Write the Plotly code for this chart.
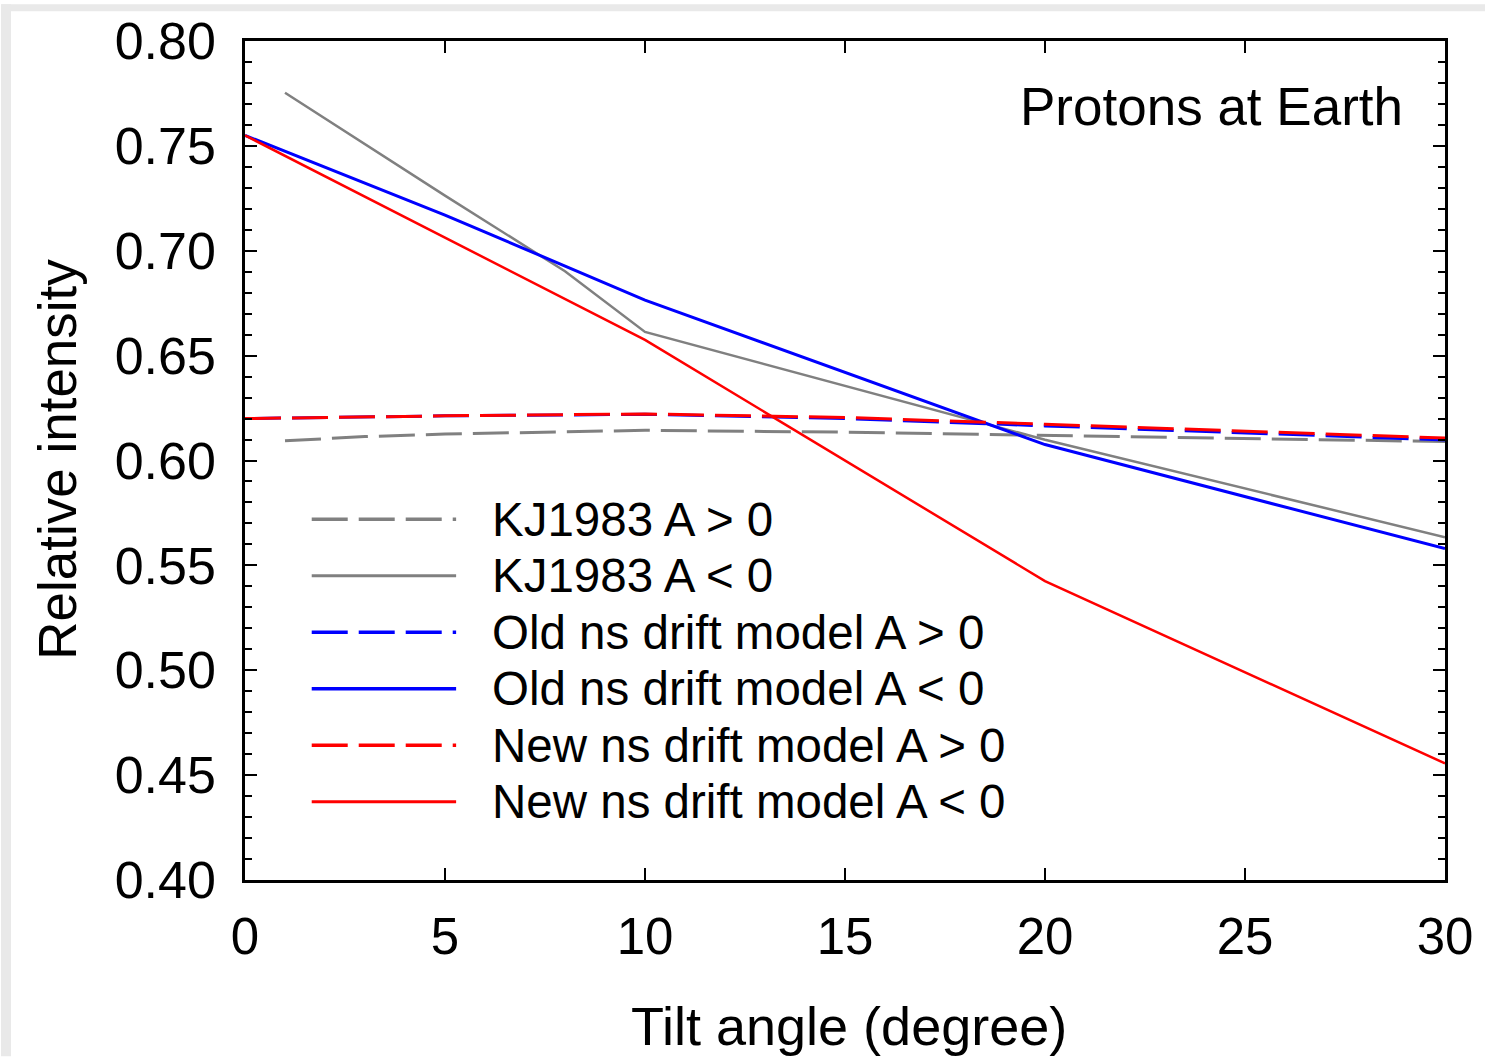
import plotly.graph_objects as go

# ---------------- data ----------------
kj_pos_x = [1, 2, 3, 5, 10, 15, 20, 25, 30]
kj_pos_y = [0.6094, 0.6103, 0.6114, 0.6126, 0.6144, 0.6135, 0.6121, 0.6105, 0.6090]

kj_neg_x = [1, 5, 8, 10, 20, 30]
kj_neg_y = [0.7753, 0.7263, 0.6902, 0.6613, 0.6099, 0.5634]

old_pos_x = [0, 5, 10, 15, 20, 25, 30]
old_pos_y = [0.6200, 0.6213, 0.6220, 0.6200, 0.6165, 0.6130, 0.6098]

old_neg_x = [0, 5, 10, 20, 30]
old_neg_y = [0.7550, 0.7170, 0.6765, 0.6076, 0.5580]

new_pos_x = [0, 5, 10, 15, 20, 25, 30]
new_pos_y = [0.6200, 0.6213, 0.6222, 0.6205, 0.6173, 0.6140, 0.6107]

new_neg_x = [0, 10, 20, 30]
new_neg_y = [0.7550, 0.6575, 0.5425, 0.4556]

x_ticks = [0, 5, 10, 15, 20, 25, 30]
y_ticks = [0.40, 0.45, 0.50, 0.55, 0.60, 0.65, 0.70, 0.75, 0.80]

legend_labels = ["KJ1983 A > 0", "KJ1983 A < 0", "Old ns drift model A > 0",
                 "Old ns drift model A < 0", "New ns drift model A > 0",
                 "New ns drift model A < 0"]

# ---------------- styles ----------------
FONT = "Liberation Sans, Arial, Helvetica, sans-serif"
GRAY = "#808080"
BLUE = "#0000ff"
RED = "#ff0000"
DASH = "36px,11px"

series = [
    (kj_pos_x, kj_pos_y, GRAY, 3.0, DASH, legend_labels[0]),
    (kj_neg_x, kj_neg_y, GRAY, 2.5, "solid", legend_labels[1]),
    (old_pos_x, old_pos_y, BLUE, 3.0, DASH, legend_labels[2]),
    (old_neg_x, old_neg_y, BLUE, 3.0, "solid", legend_labels[3]),
    (new_pos_x, new_pos_y, RED, 3.0, DASH, legend_labels[4]),
    (new_neg_x, new_neg_y, RED, 2.5, "solid", legend_labels[5]),
]

W, H = 1485, 1057
L, R, T, B = 245, 35, 37, 177
PW, PH = W - L - R, H - T - B


def px(xp):
    return (xp - L) / PW


def py(yp):
    return (H - B - yp) / PH


fig = go.Figure()
for xs, ys, c, w, d, name in series:
    fig.add_trace(go.Scatter(x=xs, y=ys, mode="lines", name=name,
                             line=dict(color=c, width=w, dash=d),
                             showlegend=False, hoverinfo="skip"))

shapes = []
annotations = []

# manual legend (line samples + labels)
leg_y0 = 517.5
leg_dy = 56.8
for i, (xs, ys, c, w, d, name) in enumerate(series):
    yy = py(leg_y0 + i * leg_dy)
    shapes.append(dict(type="line", xref="paper", yref="paper",
                       x0=px(312), x1=px(457), y0=yy, y1=yy,
                       line=dict(color=c, width=w + 0.5, dash=d)))
    annotations.append(dict(xref="paper", yref="paper", x=px(491), y=yy,
                            xanchor="left", yanchor="middle", showarrow=False,
                            text=name, font=dict(family=FONT, size=47.5, color="black")))

annotations.append(dict(xref="paper", yref="paper", x=px(1410), y=py(103),
                        xanchor="right", yanchor="middle", showarrow=False,
                        text="Protons at Earth", font=dict(family=FONT, size=53, color="black")))
annotations.append(dict(xref="paper", yref="paper", x=px(852), y=py(1027),
                        xanchor="center", yanchor="middle", showarrow=False,
                        text="Tilt angle (degree)", font=dict(family=FONT, size=54, color="black")))
annotations.append(dict(xref="paper", yref="paper", x=px(56), y=py(457),
                        xanchor="center", yanchor="middle", showarrow=False, textangle=-90,
                        text="Relative intensity", font=dict(family=FONT, size=53, color="black")))

# light-gray window border strips (screenshot frame)
shapes.append(dict(type="rect", xref="paper", yref="paper", layer="below",
                   x0=px(0), x1=px(10), y0=py(H), y1=py(0),
                   fillcolor="#e9e9e9", line=dict(width=0)))
shapes.append(dict(type="rect", xref="paper", yref="paper", layer="below",
                   x0=px(0), x1=px(W + 10), y0=py(7), y1=py(0),
                   fillcolor="#e9e9e9", line=dict(width=0)))

fig.update_layout(
    width=W, height=H,
    margin=dict(l=L, r=R, t=T, b=B, pad=0),
    paper_bgcolor="white", plot_bgcolor="white",
    font=dict(family=FONT, color="black"),
    shapes=shapes, annotations=annotations,
    showlegend=False,
)

fig.update_xaxes(range=[0, 30], tickvals=x_ticks, ticktext=[str(v) for v in x_ticks],
                 ticks="inside", ticklen=12, tickwidth=2, tickcolor="black",
                 showline=True, linewidth=2.5, linecolor="black", mirror="allticks",
                 showgrid=False, zeroline=False,
                 tickfont=dict(family=FONT, size=51, color="black"),
                 ticklabelstandoff=10)
fig.update_yaxes(range=[0.40, 0.80], tickvals=y_ticks, ticktext=["%.2f" % v for v in y_ticks],
                 ticks="inside", ticklen=12, tickwidth=2, tickcolor="black",
                 showline=True, linewidth=2.5, linecolor="black", mirror="allticks",
                 showgrid=False, zeroline=False,
                 minor=dict(dtick=0.01, ticks="inside", ticklen=7, tickwidth=2,
                            tickcolor="black", showgrid=False),
                 tickfont=dict(family=FONT, size=52, color="black"),
                 ticklabelstandoff=16)

fig.write_html("out.html")
